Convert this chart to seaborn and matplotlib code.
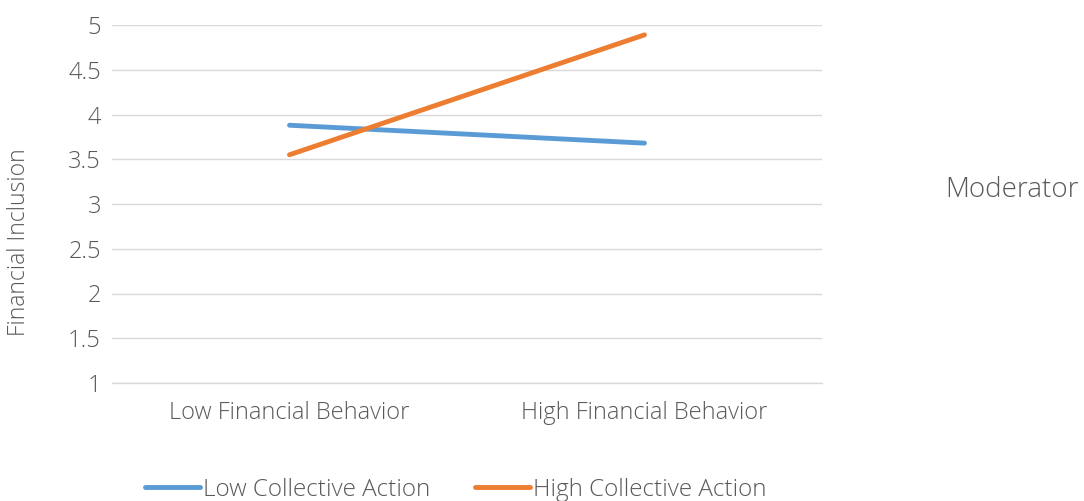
import pandas as pd
import seaborn as sns
import matplotlib.pyplot as plt

# simple slopes for the moderation
categories = ['Low Financial Behavior', 'High Financial Behavior']
low_collective = [3.88, 3.68]
high_collective = [3.55, 4.89]
series_names = ['Low Collective Action', 'High Collective Action']
y_ticks = [1, 1.5, 2, 2.5, 3, 3.5, 4, 4.5, 5]
y_tick_labels = ['1', '1.5', '2', '2.5', '3', '3.5', '4', '4.5', '5']

df = pd.DataFrame({
    'behavior': categories * 2,
    'inclusion': low_collective + high_collective,
    'group': [series_names[0]] * 2 + [series_names[1]] * 2,
})

sns.set_style('white')
plt.rcParams['font.family'] = ['Open Sans', 'DejaVu Sans']
plt.rcParams['font.weight'] = 'light'
text_color = '#595959'

fig = plt.figure(figsize=(10.84, 5.01), dpi=100)
ax = fig.add_axes([112 / 1084, 1 - 383 / 501, 710 / 1084, 358 / 501])

sns.lineplot(data=df, x='behavior', y='inclusion', hue='group', sort=False,
             palette=['#5B9BD5', '#ED7D31'], linewidth=3.5, ax=ax,
             solid_capstyle='round')

ax.set_xlim(-0.5, 1.5)
ax.set_ylim(1, 5)
ax.set_yticks(y_ticks)
ax.set_yticklabels(y_tick_labels)
ax.grid(axis='y', color='#D9D9D9', linewidth=1)
ax.set_axisbelow(True)
for s in ax.spines.values():
    s.set_visible(False)
ax.spines['bottom'].set_visible(True)
ax.spines['bottom'].set_color('#D9D9D9')
ax.spines['bottom'].set_linewidth(1)
ax.tick_params(axis='both', length=0, labelsize=17, labelcolor=text_color, pad=8)
ax.tick_params(axis='x', pad=13)
ax.set_xlabel('')
ax.set_ylabel('')

# axis title sits a bit lower than the plot centre
fig.text(19 / 1084, 1 - 242 / 501, 'Financial Inclusion', fontsize=16.5, color=text_color,
         rotation=90, ha='center', va='center')

# legend below the plot
leg = ax.legend(loc='center', bbox_to_anchor=(456 / 1084, 11 / 501), bbox_transform=fig.transFigure,
                ncol=2, frameon=False, fontsize=17.5, handlelength=2.26, handletextpad=0.12,
                columnspacing=1.85)
for t in leg.get_texts():
    t.set_color(text_color)

fig.text(945 / 1084, 1 - 190 / 501, 'Moderator', fontsize=20, color=text_color, va='center')

plt.savefig('out.png', dpi=100)
